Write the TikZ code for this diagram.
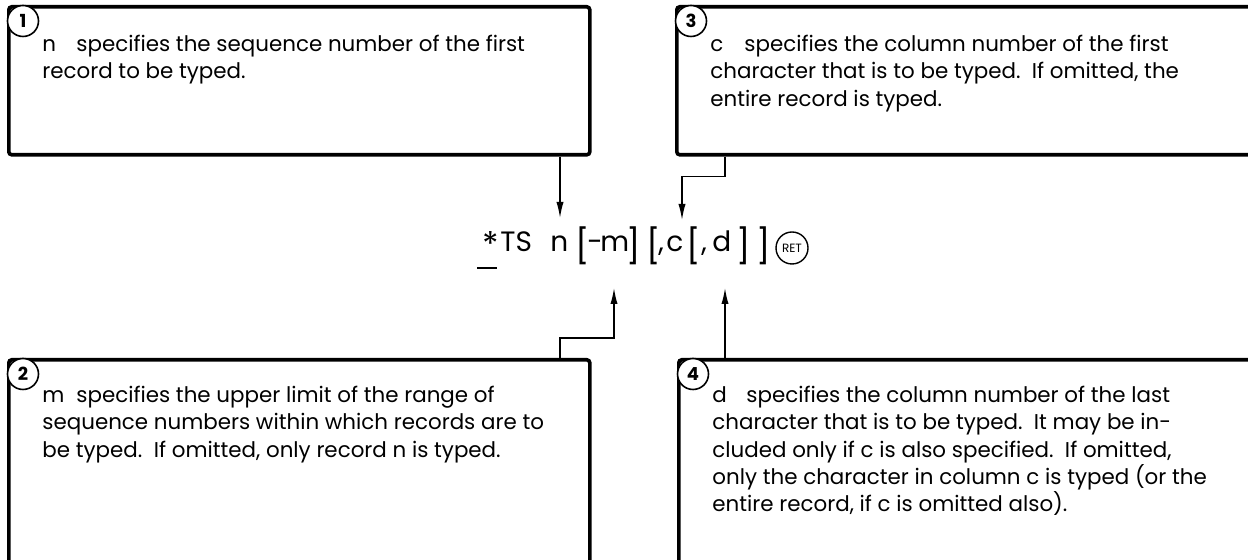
\documentclass[tikz,border=0pt]{standalone}
\usepackage{fontspec}
\setmainfont{Poppins}
\usetikzlibrary{arrows.meta}

\tikzset{
  descbox/.style={draw, line width=1.8pt, rounded corners=1.5pt, anchor=north west, inner sep=0pt},
  numcirc/.style={draw, circle, fill=white, line width=0.8pt, minimum size=15.5pt, inner sep=0pt,
    font=\fontsize{9}{9}\selectfont\bfseries},
  desc/.style={anchor=north west, inner sep=0pt, align=left, font=\fontsize{10.7}{13.6}\selectfont},
  conn/.style={line width=0.7pt, -{Latex[length=8pt,width=3.6pt]}},
  glyph/.style={anchor=base west, inner sep=0pt, font=\fontsize{14}{14}\selectfont},
  brk/.style={glyph, font=\fontsize{17}{17}\selectfont, yshift=-3.5pt}
}
\newcommand{\lead}[1]{\makebox[17pt][l]{#1}}

\begin{document}
\begin{tikzpicture}[x=0.5pt, y=-0.5pt]

\useasboundingbox (0,0) rectangle (1248,560);
\clip (0,0) rectangle (1248,560);

% Boxes
\node[descbox, minimum width=290.5pt, minimum height=74pt] (b1) at (7,5) {};
\node[descbox, minimum width=300pt, minimum height=74pt] (b3) at (675,5) {};
\node[descbox, minimum width=290.5pt, minimum height=115pt] (b2) at (7,358) {};
\node[descbox, minimum width=300pt, minimum height=115pt] (b4) at (677,358) {};

% Numbers
\node[numcirc] (n1) at (23,21) {1};
\node[numcirc] (n3) at (691,21) {3};
\node[numcirc] (n2) at (23,374) {2};
\node[numcirc] (n4) at (693,374) {4};

% Descriptions
\node[desc] (t1) at (42,35) {\lead{n}specifies the sequence number of the first\\
  record to be typed.};
\node[desc] (t3) at (710,35) {\lead{c}specifies the column number of the first\\
  character that is to be typed.\ \ If omitted, the\\
  entire record is typed.};
\node[desc] (t2) at (42,386) {\lead{m}specifies the upper limit of the range of\\
  sequence numbers within which records are to\\
  be typed.\ \ If omitted, only record n is typed.};
\node[desc] (t4) at (712,386) {\lead{d}specifies the column number of the last\\
  character that is to be typed.\ \ It may be in-\\
  cluded only if c is also specified.\ \ If omitted,\\
  only the character in column c is typed (or the\\
  entire record, if c is omitted also).};

% Command line
\node[glyph, font=\fontsize{17}{17}\selectfont] (gstar) at (482,257) {*};
\foreach \gx/\gt/\gn in {500/TS/ts, 550/n/n, 587/-/dash, 600/m/m,
    658/{,}/ca, 666/c/c, 701/{,}/cb, 712/d/d}
  \node[glyph] (g\gn) at (\gx,252) {\gt};
\foreach \bx/\bt/\bn in {575/{[}/a, 626/{]}/b, 646/{[}/c, 686/{[}/d, 736/{]}/e, 756/{]}/f}
  \node[brk] (k\bn) at (\bx,252) {\bt};
\draw[line width=1.4pt] (477,268) -- (497,268);
\node[draw, circle, minimum size=16pt, inner sep=0pt, line width=0.7pt,
  font=\fontsize{6}{6}\selectfont] (ret) at (792,248) {RET};

% Arrows
\coordinate (pn) at (560,218);
\coordinate (pc) at (682,220);
\coordinate (pm) at (614,288);
\coordinate (pd) at (725,288);
\draw[conn] (b1.south -| pn) -- (pn);
\draw[conn] (b3.south west) ++(50,0) -- ++(0,20) -| (pc);
\draw[conn] (b2.north west) ++(553,0) -- ++(0,-20) -| (pm);
\draw[conn] (b4.north -| pd) -- (pd);

\end{tikzpicture}
\end{document}
